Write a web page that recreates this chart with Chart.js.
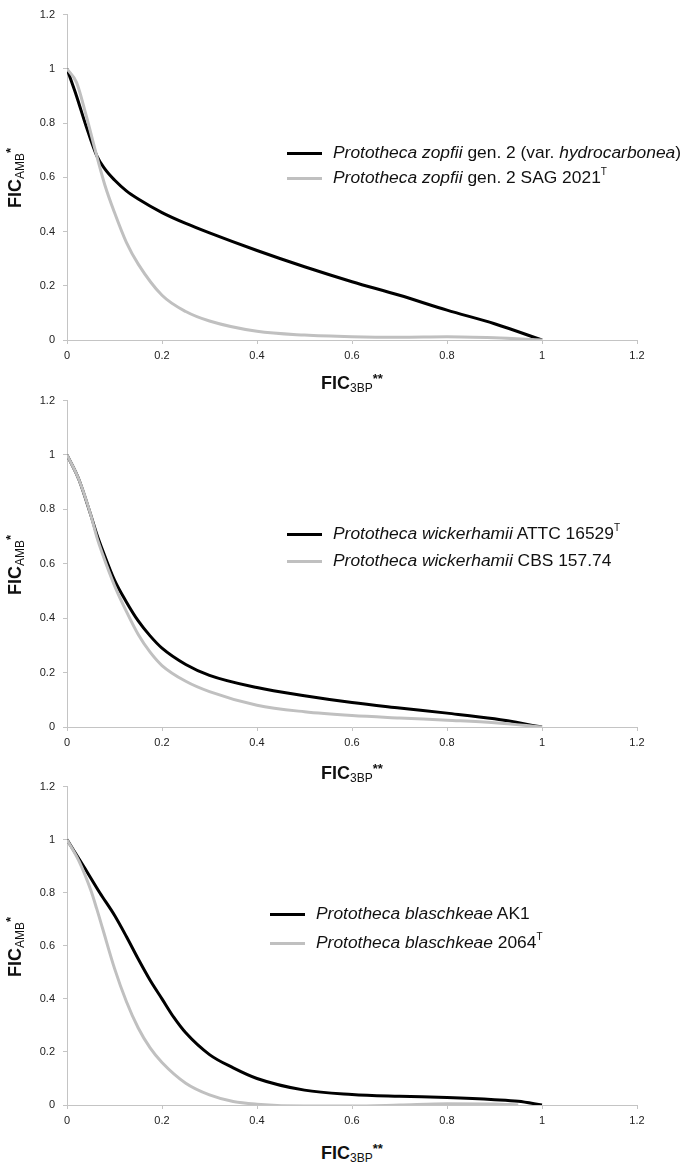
<!DOCTYPE html>
<html>
<head>
<meta charset="utf-8">
<script src="https://cdn.jsdelivr.net/npm/chart.js@4.4.1/dist/chart.umd.min.js"></script>
<style>
  body { margin: 0; background: #fff; font-family: "Liberation Sans", Arial, sans-serif; color: #111; }
  #page { position: relative; width: 686px; height: 1166px; overflow: hidden; }
  canvas { position: absolute; left: 0; }
  .ytitle { position: absolute; font-weight: bold; font-size: 18px; white-space: nowrap;
            transform: translate(-50%, -50%) rotate(-90deg); }
  .xtitle { position: absolute; font-weight: bold; font-size: 18px; white-space: nowrap;
            transform: translate(-50%, -50%); }
  .ytitle sub, .xtitle sub { font-size: 12px; font-weight: normal; vertical-align: -3px; line-height: 0; }
  .ytitle sup, .xtitle sup { font-size: 13px; vertical-align: 6px; line-height: 0; }
  .row { position: absolute; font-size: 17.4px; white-space: nowrap; height: 20px; line-height: 20px; }
  .row .sw { display: inline-block; width: 35px; height: 3px; vertical-align: middle; margin-right: 11px; }
  .row sup { font-size: 10px; vertical-align: 8px; line-height: 0; }
</style>
</head>
<body>
<div id="page">
  <canvas id="c1" width="686" height="370" style="top:0px"></canvas>
  <canvas id="c2" width="686" height="371" style="top:386px"></canvas>
  <canvas id="c3" width="686" height="363" style="top:772px"></canvas>

  <div class="ytitle" style="left:15px; top:178px">FIC<sub>AMB</sub><sup>*</sup></div>
  <div class="ytitle" style="left:15px; top:565px">FIC<sub>AMB</sub><sup>*</sup></div>
  <div class="ytitle" style="left:15px; top:947px">FIC<sub>AMB</sub><sup>*</sup></div>

  <div class="xtitle" style="left:352px; top:383px">FIC<sub>3BP</sub><sup>**</sup></div>
  <div class="xtitle" style="left:352px; top:773px">FIC<sub>3BP</sub><sup>**</sup></div>
  <div class="xtitle" style="left:352px; top:1153px">FIC<sub>3BP</sub><sup>**</sup></div>

  <div class="row" style="left:287px; top:142px"><span class="sw" style="background:#000"></span><i>Prototheca zopfii</i> gen. 2 (var. <i>hydrocarbonea</i>)</div>
  <div class="row" style="left:287px; top:167px"><span class="sw" style="background:#c0c0c0"></span><i>Prototheca zopfii</i> gen. 2 SAG 2021<sup>T</sup></div>

  <div class="row" style="left:287px; top:523px"><span class="sw" style="background:#000"></span><i>Prototheca wickerhamii</i> ATTC 16529<sup>T</sup></div>
  <div class="row" style="left:287px; top:550px"><span class="sw" style="background:#c0c0c0"></span><i>Prototheca wickerhamii</i> CBS 157.74</div>

  <div class="row" style="left:270px; top:903px"><span class="sw" style="background:#000"></span><i>Prototheca blaschkeae</i> AK1</div>
  <div class="row" style="left:270px; top:932px"><span class="sw" style="background:#c0c0c0"></span><i>Prototheca blaschkeae</i> 2064<sup>T</sup></div>
</div>

<script>
// axis ticks (same for every panel)
const xTicks = [0, 0.2, 0.4, 0.6, 0.8, 1, 1.2];
const yTicks = [0, 0.2, 0.4, 0.6, 0.8, 1, 1.2];

// panel 1: P. zopfii gen. 2
const zopfHydroX = [0, 0.02, 0.04, 0.0625, 0.08, 0.1, 0.125, 0.15, 0.2, 0.25, 0.3, 0.4, 0.5, 0.6, 0.7, 0.8, 0.9, 1];
const zopfHydroY = [1, 0.9, 0.79, 0.68, 0.63, 0.59, 0.55, 0.52, 0.47, 0.43, 0.395, 0.33, 0.27, 0.215, 0.165, 0.11, 0.06, 0];
const zopfSagX = [0, 0.02, 0.04, 0.0625, 0.08, 0.1, 0.125, 0.15, 0.2, 0.25, 0.3, 0.4, 0.5, 0.6, 0.7, 0.8, 0.9, 1];
const zopfSagY = [1, 0.95, 0.83, 0.68, 0.57, 0.47, 0.36, 0.28, 0.165, 0.105, 0.07, 0.032, 0.018, 0.012, 0.01, 0.012, 0.008, 0];

// panel 2: P. wickerhamii
const wickAttcX = [0, 0.025, 0.05, 0.0625, 0.075, 0.1, 0.125, 0.15, 0.175, 0.2, 0.25, 0.3, 0.4, 0.5, 0.6, 0.7, 0.8, 0.9, 1];
const wickAttcY = [1, 0.91, 0.78, 0.71, 0.65, 0.54, 0.46, 0.39, 0.335, 0.29, 0.23, 0.19, 0.145, 0.115, 0.09, 0.07, 0.051, 0.03, 0];
const wickCbsX = [0, 0.025, 0.05, 0.0625, 0.075, 0.1, 0.125, 0.15, 0.175, 0.2, 0.25, 0.3, 0.4, 0.5, 0.6, 0.7, 0.8, 0.9, 1];
const wickCbsY = [1, 0.91, 0.78, 0.7, 0.635, 0.52, 0.425, 0.34, 0.275, 0.226, 0.168, 0.13, 0.08, 0.056, 0.042, 0.033, 0.025, 0.016, 0];

// panel 3: P. blaschkeae
const blasAk1X = [0, 0.035, 0.069, 0.1, 0.125, 0.15, 0.175, 0.2, 0.225, 0.25, 0.3, 0.35, 0.4, 0.5, 0.6, 0.7, 0.8, 0.9, 0.95, 1];
const blasAk1Y = [1, 0.9, 0.8, 0.715, 0.635, 0.55, 0.47, 0.4, 0.33, 0.272, 0.19, 0.14, 0.1, 0.056, 0.04, 0.033, 0.028, 0.02, 0.014, 0];
const blas2064X = [0, 0.025, 0.05, 0.0625, 0.075, 0.1, 0.125, 0.15, 0.175, 0.2, 0.25, 0.3, 0.35, 0.4, 0.5, 0.6, 0.7, 0.8, 0.9, 0.95];
const blas2064Y = [1, 0.92, 0.81, 0.74, 0.665, 0.515, 0.39, 0.29, 0.215, 0.16, 0.082, 0.038, 0.013, 0.003, -0.004, -0.004, 0, 0.005, 0.004, 0];

const BLACK = "#000000";
const GREY = "#c0c0c0";
const AXIS = "#c4c4c4";

function pts(xs, ys) {
  return xs.map((x, i) => ({ x: x, y: ys[i] }));
}

function line(label, xs, ys, color) {
  return {
    label: label,
    data: pts(xs, ys),
    borderColor: color,
    borderWidth: 3,
    pointRadius: 0,
    cubicInterpolationMode: "monotone",
    fill: false
  };
}

function axis(values, isX) {
  return {
    type: "linear",
    min: 0,
    max: 1.2,
    afterBuildTicks: (scale) => { scale.ticks = values.map(v => ({ value: v })); },
    afterFit: (scale) => {
      if (isX) scale.height = 30; else scale.width = 67;
    },
    border: { color: AXIS, width: 1 },
    grid: { display: true, drawOnChartArea: false, drawTicks: true, tickLength: 4, color: AXIS },
    ticks: {
      color: "#222",
      font: { family: "'Liberation Sans', Arial, sans-serif", size: 11 },
      padding: isX ? 5 : 8,
      maxRotation: 0,
      autoSkip: false,
      callback: (v) => String(v)
    }
  };
}

function makeChart(id, datasets) {
  new Chart(document.getElementById(id), {
    type: "line",
    data: { datasets: datasets },
    options: {
      responsive: false,
      animation: false,
      layout: { padding: { top: 7, right: 49, left: 0, bottom: 0 } },
      scales: { x: axis(xTicks, true), y: axis(yTicks, false) },
      plugins: { legend: { display: false }, tooltip: { enabled: false } }
    }
  });
}

// grey drawn first so black sits on top
makeChart("c1", [
  line("Prototheca zopfii gen. 2 SAG 2021T", zopfSagX, zopfSagY, GREY),
  line("Prototheca zopfii gen. 2 (var. hydrocarbonea)", zopfHydroX, zopfHydroY, BLACK)
]);
makeChart("c2", [
  line("Prototheca wickerhamii CBS 157.74", wickCbsX, wickCbsY, GREY),
  line("Prototheca wickerhamii ATTC 16529T", wickAttcX, wickAttcY, BLACK)
]);
makeChart("c3", [
  line("Prototheca blaschkeae 2064T", blas2064X, blas2064Y, GREY),
  line("Prototheca blaschkeae AK1", blasAk1X, blasAk1Y, BLACK)
]);
</script>
</body>
</html>
